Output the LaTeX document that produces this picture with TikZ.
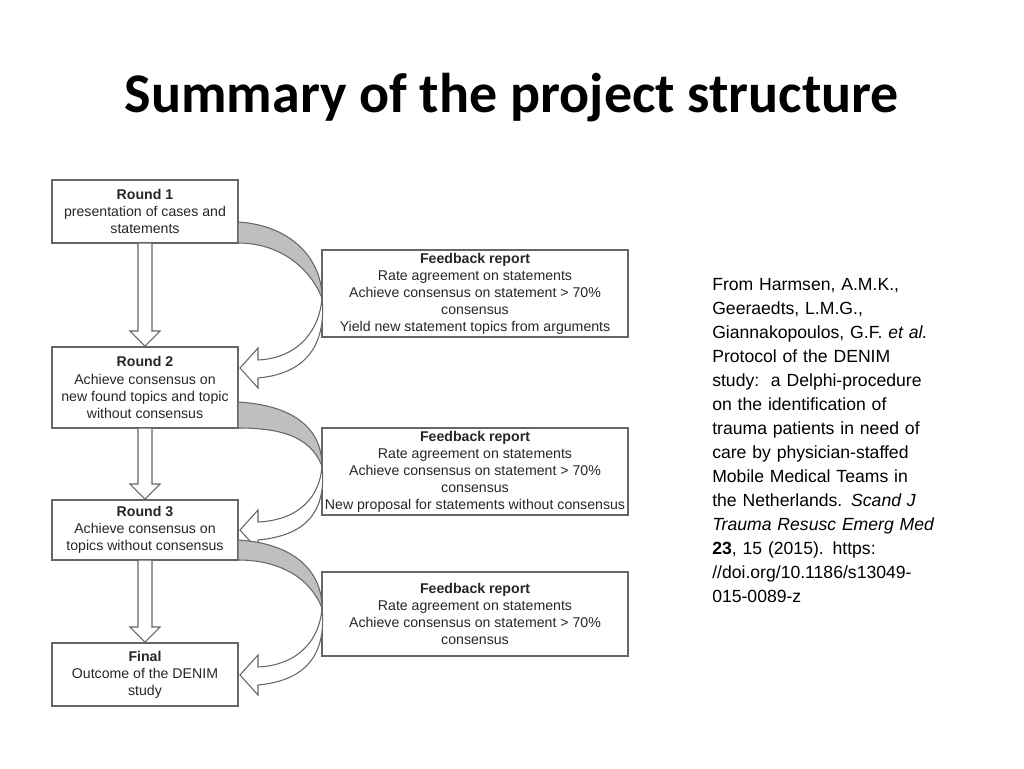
\documentclass[tikz,border=0pt]{standalone}
\usepackage{fontspec}
\setmainfont{Liberation Sans}
\newfontfamily\titlefont{Carlito}
\begin{document}
\begin{tikzpicture}[x=0.75pt,y=-0.75pt,
  box/.style={draw=black!60,line width=1pt,align=center,font=\fontsize{10.6}{12.8}\selectfont,text=black!85,inner sep=0pt},
  conn/.style={draw=black!60,line width=0.8pt}]
\useasboundingbox (0,0) rectangle (1024,768);
\node[font=\titlefont\bfseries\fontsize{42}{46}\selectfont] (title) at (512,98) {Summary of the project structure};
% left boxes
\node[box,minimum width=139.5pt,minimum height=47.25pt] (r1) at (145,211.5) {\textbf{Round 1}\\presentation of cases and\\statements};
\node[box,minimum width=139.5pt,minimum height=60.75pt] (r2) at (145,387.5) {\textbf{Round 2}\\Achieve consensus on\\new found topics and topic\\without consensus};
\node[box,minimum width=139.5pt,minimum height=45pt] (r3) at (145,530) {\textbf{Round 3}\\Achieve consensus on\\topics without consensus};
\node[box,minimum width=139.5pt,minimum height=47.25pt] (r4) at (145,674.5) {\textbf{Final}\\Outcome of the DENIM\\study};
% feedback boxes
\node[box,minimum width=229.5pt,minimum height=65.25pt] (f1) at (475,293.5) {\textbf{Feedback report}\\Rate agreement on statements\\Achieve consensus on statement > 70\%\\consensus\\Yield new statement topics from arguments};
\node[box,minimum width=229.5pt,minimum height=65.25pt] (f2) at (475,471.5) {\textbf{Feedback report}\\Rate agreement on statements\\Achieve consensus on statement > 70\%\\consensus\\New proposal for statements without consensus};
\node[box,minimum width=229.5pt,minimum height=63pt] (f3) at (475,614) {\textbf{Feedback report}\\Rate agreement on statements\\Achieve consensus on statement > 70\%\\consensus};
% down arrows
\newcommand\downarr[2]{%
  \draw[conn,fill=white] (138,#1) -- (138,#2-15) -- (130,#2-15) -- (145,#2) -- (160,#2-15) -- (152,#2-15) -- (152,#1) -- cycle;}
\downarr{243}{346}
\downarr{428}{499}
\downarr{560}{642}
% curved arrows: top of gray, box bottom, apex, tip
\newcommand\curvarr[4]{%
  \draw[conn,fill=black!25] (238,#1) .. controls (290,#1+3) and (322,#3-40) .. (322,#3)
     .. controls (310,#3-30) and (280,#2) .. (238,#2) -- cycle;
  \draw[conn,fill=white] (322,#3) .. controls (320,#3+30) and (300,#4-10) .. (258,#4-8)
     -- (258,#4-20) -- (240,#4) -- (258,#4+20) -- (258,#4+10)
     .. controls (312,#4+5) and (326,#3+40) .. (322,#3);}
\curvarr{222}{243}{298}{368}
\curvarr{402}{428}{466}{530}
\curvarr{540}{560}{608}{675}
% citation
\node[anchor=north west,align=left,font=\fontsize{13.2}{18}\selectfont,text width=200pt,inner sep=0pt] (cite) at (712,278)
{From Harmsen, A.M.K.,\\Geeraedts, L.M.G.,\\Giannakopoulos, G.F. \textit{et al.}\\Protocol of the DENIM\\study:\ \ a Delphi-procedure\\on the identification of\\trauma patients in need of\\care by physician-staffed\\Mobile Medical Teams in\\the Netherlands. \textit{Scand J}\\\textit{Trauma Resusc Emerg Med}\\\textbf{23}, 15 (2015). https:\\//doi.org/10.1186/s13049-\\015-0089-z};
\end{tikzpicture}
\end{document}
